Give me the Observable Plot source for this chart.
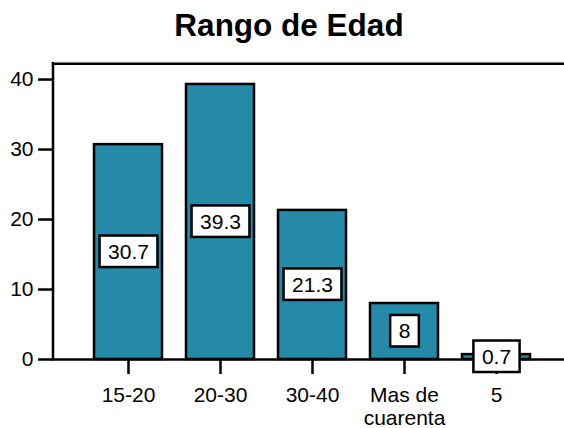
<!DOCTYPE html>
<html><head><meta charset="utf-8">
<script src="https://cdn.jsdelivr.net/npm/d3@7"></script>
<script src="https://cdn.jsdelivr.net/npm/@observablehq/plot@0.6"></script>
<style>
body{margin:0;background:#fff;font-family:"Liberation Sans",Arial,sans-serif;}
#title{height:50px;line-height:50px;font-size:31.5px;font-weight:bold;text-align:center;padding-left:14px;width:550px;color:#000;}
svg{display:block}
</style></head><body>
<div id="title">Rango de Edad</div>
<div id="chart"></div>
<script>
const categories = ["15-20", "20-30", "30-40", "Mas de\ncuarenta", "5"];
const values = [30.7, 39.3, 21.3, 8, 0.7];
const valueLabels = ["30.7", "39.3", "21.3", "8", "0.7"];
const yTicks = [0, 10, 20, 30, 40];
const yMax = 42.25;

const data = categories.map((c, i) => ({cat: c, value: values[i], label: valueLabels[i]}));

const plot = Plot.plot({
  width: 564,
  height: 378,
  marginLeft: 53,
  marginRight: 0,
  marginTop: 13.3,
  marginBottom: 69,
  insetLeft: 15,
  insetRight: 7.6,
  style: {fontSize: "21px", fontFamily: "'Liberation Sans', Arial, sans-serif", color: "#000", background: "#fff", overflow: "visible"},
  x: {domain: categories, padding: 0.257, label: null},
  y: {domain: [0, yMax], label: null},
  marks: [
    Plot.barY(data, {x: "cat", y: "value", fill: "#2589a8", stroke: "#000", strokeWidth: 2.5}),
    Plot.ruleY([0, yMax], {stroke: "#000", strokeWidth: 2.5, strokeLinecap: "square"}),
    (index, scales, vals, dims) => {
      const p = d3.create("svg:path")
        .attr("d", `M${dims.marginLeft},${scales.y(0)}V${scales.y(yMax)}`)
        .attr("fill", "none")
        .attr("stroke", "#000")
        .attr("stroke-width", 2.5)
        .attr("stroke-linecap", "square");
      return p.node();
    },
    Plot.axisY({ticks: yTicks, tickSize: 15, tickPadding: 5, strokeWidth: 2.5, label: null, fontSize: 21, fill: "#000"}),
    Plot.axisX({tickSize: 15, tickPadding: 11, strokeWidth: 2.5, label: null, fontSize: 21, lineHeight: 1.1, fill: "#000"}),
    Plot.text(data, {x: "cat", y: d => d.value / 2, text: "label", fontSize: 21, fill: "#000"})
  ]
});

document.getElementById("chart").append(plot);

const padX = 8.5, padY = 4.25;
d3.select(plot).selectAll('g[aria-label="text"] text').each(function() {
  const b = this.getBBox();
  const r = document.createElementNS("http://www.w3.org/2000/svg", "rect");
  r.setAttribute("x", b.x - padX);
  r.setAttribute("y", b.y - padY);
  r.setAttribute("width", b.width + 2 * padX);
  r.setAttribute("height", b.height + 2 * padY);
  r.setAttribute("fill", "#fff");
  r.setAttribute("stroke", "#000");
  r.setAttribute("stroke-width", 2.5);
  const t = this.getAttribute("transform");
  if (t) r.setAttribute("transform", t);
  this.parentNode.insertBefore(r, this);
});
</script>
</body></html>
